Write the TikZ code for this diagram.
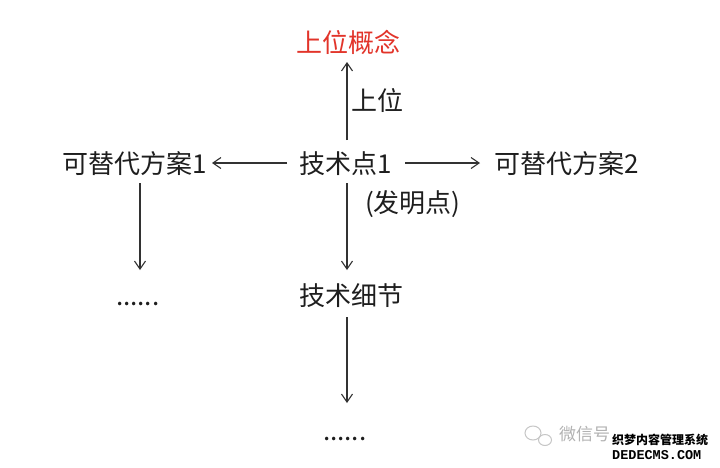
\documentclass[tikz,border=0pt]{standalone}
\usepackage{fontspec}
\setmainfont{Noto Sans CJK SC}
\newfontfamily\wmmono{Liberation Mono}
\usetikzlibrary{arrows.meta,calc}
\definecolor{txt}{RGB}{30,30,30}
\definecolor{hl}{RGB}{226,52,42}
\definecolor{ln}{RGB}{50,50,50}
\tikzset{
  lbl/.style={anchor=base west,inner sep=0pt,outer sep=0pt,text=txt,font=\fontsize{26}{30}\selectfont},
  conn/.style={draw=ln,line width=1.1pt,-{Straight Barb[length=8pt,width=11pt,line width=1.1pt]}},
  wm/.style={anchor=base west,inner sep=0pt}
}
\begin{document}
\begin{tikzpicture}[x=1pt,y=1pt]
\useasboundingbox[fill=white] (0,0) rectangle (720,-467);
% nodes
\node[lbl,text=hl] (top) at (296,-52) {上位概念};
\node[lbl] (upl) at (351,-110) {上位};
\node[lbl] (tech) at (299,-173) {技术点1};
\node[lbl] (alt1) at (62,-173) {可替代方案1};
\node[lbl] (alt2) at (494,-173) {可替代方案2};
\node[lbl] (inv) at (365,-212) {(发明点)};
\node[lbl] (detail) at (299,-305) {技术细节};
\node[lbl] (dots1) at (116,-305) {......};
\node[lbl] (dots2) at (323,-440) {......};
% connectors
\draw[conn] ($(tech.base west)+(48,33)$) -- ($(top.base west)+(51,-10)$);
\draw[conn] ($(tech.base west)+(-12,10)$) -- ($(alt1.base west)+(150,10)$);
\draw[conn] ($(tech.base west)+(106,10)$) -- ($(alt2.base west)+(-14,10)$);
\draw[conn] ($(alt1.base west)+(78,-10)$) -- ($(dots1.base west)+(24,35)$);
\draw[conn] ($(tech.base west)+(48,-10)$) -- ($(detail.base west)+(48,35)$);
\draw[conn] ($(detail.base west)+(48,-12)$) -- ($(dots2.base west)+(24,37)$);
% watermark
\draw[gray!45,line width=1pt] (533,-433) ellipse (8 and 7);
\draw[gray!45,line width=1pt] (545,-440) ellipse (6.5 and 5.5);
\node[wm,text=gray!60,font=\fontsize{17}{20}\selectfont] (wx) at (559,-440) {微信号};
\node[wm,text=black,font=\fontsize{12}{13}\bfseries\selectfont] (wm1) at (612,-444) {织梦内容管理系统};
\node[wm,text=black,font=\wmmono\bfseries\fontsize{13.5}{14}\selectfont] (wm2) at (612,-459) {DEDECMS.COM};
\end{tikzpicture}
\end{document}
